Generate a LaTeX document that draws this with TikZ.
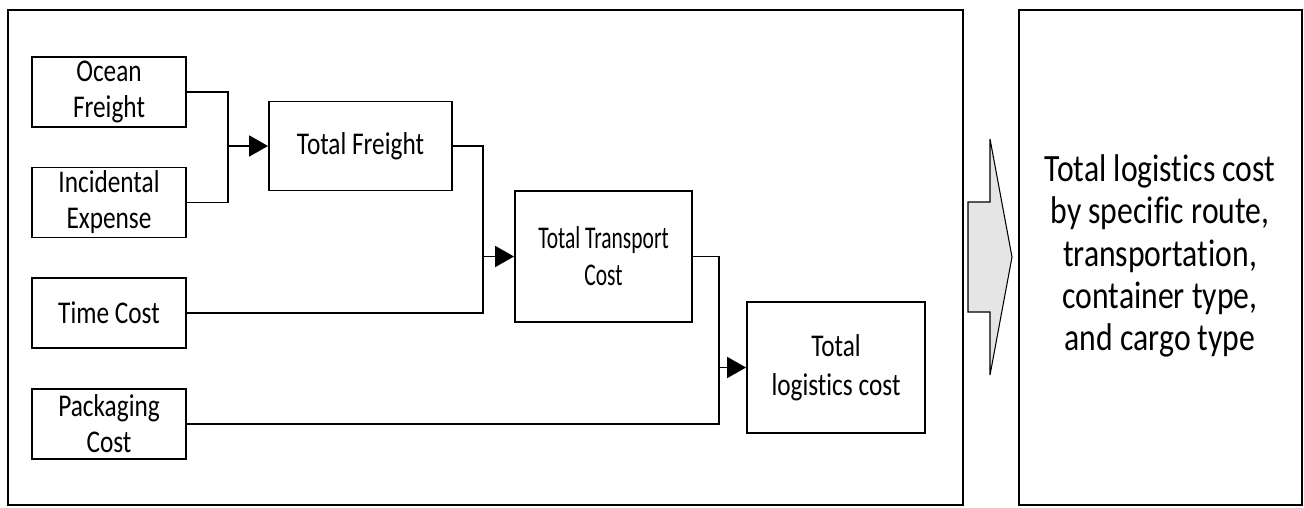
\documentclass[tikz,border=0pt]{standalone}
\usepackage{fontspec}
\setmainfont{Carlito}[Ligatures=NoCommon]
\newfontfamily\boxfont{Carlito}[FakeStretch=0.8,Ligatures=NoCommon]
\newfontfamily\narrowfont{Carlito}[FakeStretch=0.68,Ligatures=NoCommon]
\newfontfamily\resultfont{Carlito}[FakeStretch=0.82,Ligatures=NoCommon]
\usetikzlibrary{arrows.meta,positioning}

\begin{document}
\begin{tikzpicture}[x=0.02cm,y=-0.02cm,
  costbox/.style={draw,line width=1.1pt,align=center,inner sep=0pt,
    font=\boxfont\fontsize{18}{20.5}\selectfont},
  link/.style={line width=1.1pt},
  linkarrow/.style={line width=1.1pt,-{Triangle[length=0.38cm,width=0.42cm]}}]
\useasboundingbox (0,0) rectangle (1304,507);
\pgfmathsetmacro{\inw}{3.08}
\pgfmathsetmacro{\inh}{1.4}
% frames
\draw[line width=1.6pt] (8,10) rectangle (963,505);
\draw[line width=1.6pt] (1019,10) rectangle (1302,505);
% input costs
\node[costbox,minimum width=\inw cm,minimum height=\inh cm] (ocean) at (109,92) {Ocean\\Freight};
\node[costbox,minimum width=\inw cm,minimum height=\inh cm] (incid) at (109,202.5) {Incidental\\Expense};
\node[costbox,minimum width=\inw cm,minimum height=\inh cm] (time) at (109,313) {Time Cost};
\node[costbox,minimum width=\inw cm,minimum height=\inh cm] (pack) at (109,424) {Packaging\\Cost};
% totals
\node[costbox,minimum width=3.66cm,minimum height=1.78cm] (freight) at (360.5,146) {Total Freight};
\node[costbox,minimum width=3.54cm,minimum height=2.62cm,font=\narrowfont\fontsize{18}{21}\selectfont] (transport) at (603.5,256.5) {Total Transport\\Cost};
\node[costbox,minimum width=3.56cm,minimum height=2.62cm,font=\boxfont\fontsize{18}{22}\selectfont] (logist) at (836,367.5) {Total\\logistics cost};
% joins
\coordinate (jf) at (228,146);
\coordinate (jt) at (483,256.5);
\coordinate (jl) at (719,367.5);
\draw[link] (ocean.east) -| (jf) |- (incid.east);
\draw[linkarrow] (jf) -- (freight.west);
\draw[link] (freight.east) -| (jt) |- (time.east);
\draw[linkarrow] (jt) -- (transport.west);
\draw[link] (transport.east) -| (jl) |- (pack.east);
\draw[linkarrow] (jl) -- (logist.west);
% result
\draw[line width=0.6pt,fill=gray!20] (968,202) -- (990,202) -- (990,139) -- (1012,257)
  -- (990,375) -- (990,312) -- (968,312) -- cycle;
\node[align=center,font=\resultfont\fontsize{22}{24}\selectfont] (result) at (1160,256)
  {Total logistics cost\\by specific route,\\transportation,\\container type,\\and cargo type};
\end{tikzpicture}
\end{document}
